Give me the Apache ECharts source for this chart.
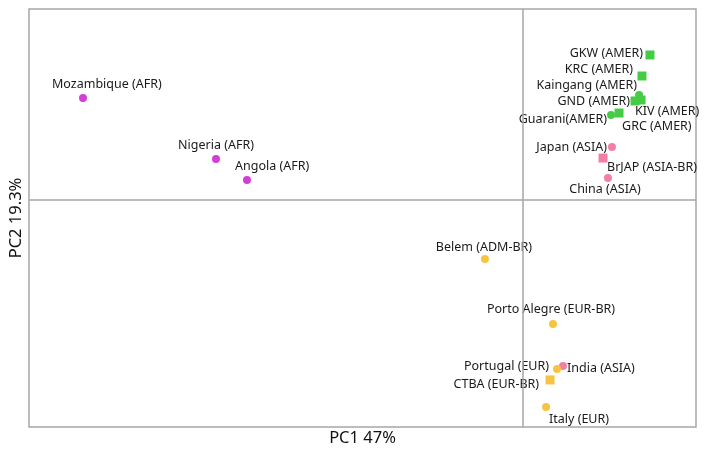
<!DOCTYPE html>
<html>
<head>
<meta charset="utf-8">
<script src="https://cdn.jsdelivr.net/npm/echarts@6/dist/echarts.min.js"></script>
<style>
  html, body { margin: 0; padding: 0; background: #fff; }
  #chart { width: 709px; height: 457px; }
</style>
</head>
<body>
<div id="chart"></div>
<script>
// sample names, PCA scores and groups
const names = [
  'Mozambique (AFR)', 'Nigeria (AFR)', 'Angola (AFR)',
  'GKW (AMER)', 'KRC (AMER)', 'Kaingang (AMER)', 'GND (AMER)', 'KIV (AMER)', 'Guarani(AMER)', 'GRC (AMER)',
  'Japan (ASIA)', 'BrJAP (ASIA-BR)', 'China (ASIA)', 'India (ASIA)',
  'Belem (ADM-BR)', 'Porto Alegre (EUR-BR)', 'Portugal (EUR)', 'CTBA (EUR-BR)', 'Italy (EUR)'
]
const pc1 = [
  -0.3295, -0.2298, -0.2066,
  0.0955, 0.0895, 0.0873, 0.0843, 0.0888, 0.0663, 0.0723,
  0.0670, 0.0603, 0.0640, 0.0303,
  -0.0282, 0.0228, 0.0258, 0.0206, 0.0176
]
const pc2 = [
  0.0855, 0.0344, 0.0168,
  0.1215, 0.1039, 0.0880, 0.0830, 0.0838, 0.0712, 0.0729,
  0.0445, 0.0352, 0.0185, -0.1389,
  -0.0493, -0.1038, -0.1414, -0.1506, -0.1733
]
const groups = [
  'AFR', 'AFR', 'AFR',
  'AMER', 'AMER', 'AMER', 'AMER', 'AMER', 'AMER', 'AMER',
  'ASIA', 'ASIA', 'ASIA', 'ASIA',
  'EUR', 'EUR', 'EUR', 'EUR', 'EUR'
]
// Brazilian-sampled populations are drawn as squares
const brazilian = ['GKW (AMER)', 'KRC (AMER)', 'GND (AMER)', 'KIV (AMER)', 'GRC (AMER)', 'BrJAP (ASIA-BR)', 'CTBA (EUR-BR)']

const groupColors = { AFR: '#d23ed6', AMER: '#45cc45', ASIA: '#f47fa6', EUR: '#f6c343' }

// label placement: [dx, dy, align]
const labelPlace = {
  'Mozambique (AFR)': [-31, -14, 'left'],
  'Nigeria (AFR)': [0, -14, 'center'],
  'Angola (AFR)': [-12, -14, 'left'],
  'GKW (AMER)': [-7, -2, 'right'],
  'KRC (AMER)': [-9, -7, 'right'],
  'Kaingang (AMER)': [-2, -10, 'right'],
  'GND (AMER)': [-5, 0, 'right'],
  'KIV (AMER)': [-6, 11, 'left'],
  'Guarani(AMER)': [-4, 4, 'right'],
  'GRC (AMER)': [3, 13, 'left'],
  'Japan (ASIA)': [-5, 0, 'right'],
  'BrJAP (ASIA-BR)': [4, 9, 'left'],
  'China (ASIA)': [-3, 11, 'center'],
  'India (ASIA)': [4, 2, 'left'],
  'Belem (ADM-BR)': [-1, -12, 'center'],
  'Porto Alegre (EUR-BR)': [-2, -15, 'center'],
  'Portugal (EUR)': [-8, -3, 'right'],
  'CTBA (EUR-BR)': [-11, 4, 'right'],
  'Italy (EUR)': [3, 12, 'left']
}

const chart = echarts.init(document.getElementById('chart'))

const seriesFor = (g) => ({
  type: 'scatter',
  name: g,
  data: names.map((n, i) => ({ n, i })).filter(e => groups[e.i] === g).map(e => {
    const p = labelPlace[e.n]
    const sq = brazilian.includes(e.n)
    return {
      name: e.n,
      value: [pc1[e.i], pc2[e.i]],
      symbol: sq ? 'rect' : 'circle',
      symbolSize: sq ? 9 : 8,
      label: { offset: [p[0], p[1]], align: p[2] }
    }
  }),
  itemStyle: { color: groupColors[g], opacity: 1 },
  label: {
    show: true,
    position: 'inside',
    formatter: '{b}',
    verticalAlign: 'middle',
    color: '#1a1a1a',
    fontFamily: 'Noto Sans',
    fontSize: 12.5
  },
  emphasis: { disabled: true }
})

const series = ['AFR', 'AMER', 'ASIA', 'EUR'].map(seriesFor)
series.push({
  type: 'scatter',
  data: [],
  silent: true,
  markLine: {
    silent: true,
    symbol: 'none',
    label: { show: false },
    lineStyle: { color: '#a6a6a6', width: 1.5, type: 'solid' },
    data: [{ xAxis: 0 }, { yAxis: 0 }]
  }
})

chart.setOption({
  animation: false,
  grid: {
    left: 29, top: 9, right: 13, bottom: 30,
    show: true, borderColor: '#a6a6a6', borderWidth: 1.5
  },
  xAxis: {
    type: 'value', min: -0.37, max: 0.13,
    name: 'PC1 47%', nameLocation: 'middle', nameGap: 3,
    nameTextStyle: { fontFamily: 'Noto Sans', fontSize: 16.5, color: '#111' },
    axisLine: { show: false }, axisTick: { show: false },
    axisLabel: { show: false }, splitLine: { show: false }
  },
  yAxis: {
    type: 'value', min: -0.19, max: 0.16,
    name: 'PC2 19.3%', nameLocation: 'middle', nameGap: 4,
    nameTextStyle: { fontFamily: 'Noto Sans', fontSize: 16.5, color: '#111' },
    axisLine: { show: false }, axisTick: { show: false },
    axisLabel: { show: false }, splitLine: { show: false }
  },
  series
})
</script>
</body>
</html>
